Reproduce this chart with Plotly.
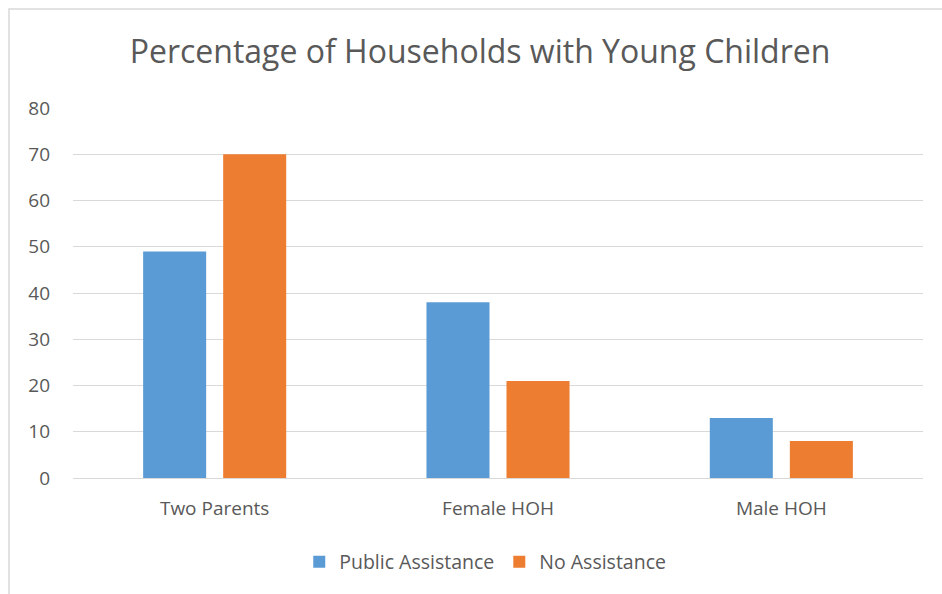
import plotly.graph_objects as go

categories = ["Two Parents", "Female HOH", "Male HOH"]
public_assistance = [49, 38, 13]
no_assistance = [70, 21, 8]
y_ticks = [0, 10, 20, 30, 40, 50, 60, 70, 80]

FONT = "Open Sans"
TXT = "#595959"

fig = go.Figure()
fig.add_trace(go.Bar(x=categories, y=public_assistance, name="Public Assistance",
                     marker=dict(color="#5B9BD5", line=dict(width=0))))
fig.add_trace(go.Bar(x=categories, y=no_assistance, name="No Assistance",
                     marker=dict(color="#ED7D31", line=dict(width=0))))

L, R, T, B = 73, 19, 108, 116
pw, ph = 942 - L - R, 594 - T - B

def px_x(p):
    return (p - L) / pw

def px_y(p):
    return (594 - B - p) / ph

fig.update_layout(
    width=942, height=594,
    margin=dict(l=L, r=R, t=T, b=B),
    paper_bgcolor="white", plot_bgcolor="white",
    barmode="group", bargap=0.435, bargroupgap=0.2125,
    font=dict(family=FONT, color=TXT, size=19),
    title=dict(text="Percentage of Households with Young Children",
               xref="container", x=480 / 942, xanchor="center",
               y=1 - 52 / 594, yanchor="middle",
               font=dict(family=FONT, size=32, color=TXT)),
    xaxis=dict(showgrid=False, showline=False, ticks="", ticklabelstandoff=17,
               tickfont=dict(size=19, color=TXT)),
    yaxis=dict(range=[0, 80], tickvals=y_ticks, showgrid=True, gridcolor="#D9D9D9",
               gridwidth=1, zeroline=True, zerolinecolor="#D9D9D9", zerolinewidth=1,
               showline=False, ticks="", ticklabelstandoff=22, tickfont=dict(size=19, color=TXT)),
    legend=dict(orientation="h", x=0.485, xanchor="center", y=px_y(562), yanchor="middle",
                font=dict(size=19.5, color=TXT), itemwidth=30, traceorder="normal"),
    shapes=[dict(type="rect", xref="paper", yref="paper",
                 x0=px_x(9), x1=px_x(960), y0=px_y(620), y1=px_y(9),
                 line=dict(color="#D9D9D9", width=1.5), layer="below")],
)

fig.write_html("out.html", config={"displayModeBar": False},
               post_script="document.body.style.margin='0';")
